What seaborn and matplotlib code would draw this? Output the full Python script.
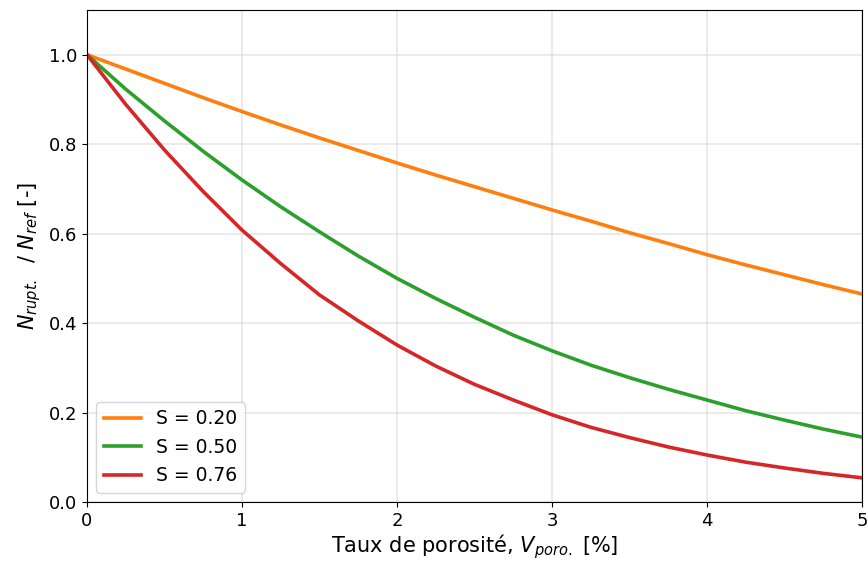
"""
Relative rupture load vs porosity rate for three values of S
"""

import pandas as pd
import matplotlib
matplotlib.use("Agg")
import matplotlib.pyplot as plt
import seaborn as sns

# values (every 0.25 %)
porosity = [0.0, 0.25, 0.5, 0.75, 1.0, 1.25, 1.5, 1.75, 2.0, 2.25, 2.5,
            2.75, 3.0, 3.25, 3.5, 3.75, 4.0, 4.25, 4.5, 4.75, 5.0]
ratio_s020 = [1.000, 0.968, 0.936, 0.904, 0.873, 0.843, 0.814, 0.786, 0.758, 0.731, 0.705,
              0.679, 0.653, 0.628, 0.602, 0.578, 0.553, 0.530, 0.508, 0.486, 0.465]
ratio_s050 = [1.000, 0.923, 0.852, 0.784, 0.720, 0.660, 0.604, 0.550, 0.500, 0.455, 0.413,
              0.373, 0.338, 0.306, 0.278, 0.252, 0.228, 0.204, 0.183, 0.163, 0.145]
ratio_s076 = [1.000, 0.889, 0.787, 0.694, 0.608, 0.533, 0.463, 0.405, 0.351, 0.304, 0.263,
              0.228, 0.195, 0.167, 0.144, 0.123, 0.105, 0.089, 0.076, 0.064, 0.054]
s_labels = ["S = 0.20", "S = 0.50", "S = 0.76"]
colors = ["#ff7f0e", "#2ca02c", "#d62728"]


def build_frame():
    rows = []
    for lab, vals in zip(s_labels, [ratio_s020, ratio_s050, ratio_s076]):
        for x, y in zip(porosity, vals):
            rows.append({"V": x, "N": y, "S": lab})
    return pd.DataFrame(rows)


def main():
    df = build_frame()

    fig = plt.figure(figsize=(8.68, 5.62), dpi=100)
    ax = fig.add_axes([0.1002, 0.1068, 0.8929, 0.8754])

    sns.lineplot(data=df, x="V", y="N", hue="S", palette=colors,
                 linewidth=2.6, ax=ax)

    ax.set_xlim(0, 5)
    ax.set_ylim(0, 1.1)
    ax.set_yticks([0.0, 0.2, 0.4, 0.6, 0.8, 1.0])
    ax.grid(True, color="#dddddd", linewidth=1.1, alpha=0.8)
    ax.tick_params(labelsize=13)

    ax.set_xlabel(r"Taux de porosité, $V_{poro.}$ [%]", fontsize=15, labelpad=2)
    ax.set_ylabel(r"$N_{rupt.}$  / $N_{ref}$ [-]", fontsize=15)

    leg = ax.legend(loc="lower left", fontsize=13.5)
    leg.set_title(None)

    fig.savefig("out.png", dpi=100)
    plt.close(fig)


if __name__ == "__main__":
    main()
